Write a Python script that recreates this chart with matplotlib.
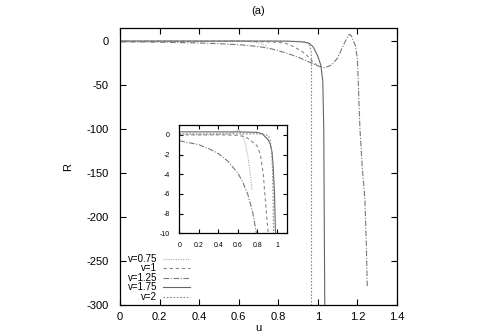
import matplotlib

matplotlib.use("Agg")
import matplotlib.pyplot as plt
from matplotlib.lines import Line2D

plt.rcParams["font.family"] = ["Liberation Sans", "DejaVu Sans"]
plt.rcParams["axes.unicode_minus"] = False

# v = 0.75
u_075 = [0.12, 0.2, 0.3, 0.4, 0.5, 0.55, 0.58, 0.6, 0.62, 0.64, 0.66, 0.68, 0.70, 0.72, 0.745]
r_075 = [0.0, 0.0, 0.0, 0.05, 0.1, 0.2, 0.4, 0.5, 0.4, 0.1, -0.4, -1.1, -2.0, -3.4, -5.6]

# v = 1
u_1 = [0.0, 0.2, 0.4, 0.6, 0.68, 0.72, 0.76, 0.78, 0.8, 0.83, 0.86, 0.88, 0.91, 0.94, 0.97, 1.0]
r_1 = [0.0, 0.0, 0.0, -0.05, -0.2, -0.5, -0.8, -0.9, -1.2, -2.0, -4.0, -6.5, -10.0, -15.0, -22.0, -28.0]

# v = 1.25
u_125 = [0.0, 0.1, 0.2, 0.3, 0.4, 0.5, 0.6, 0.65, 0.7, 0.75, 0.79, 0.85, 0.9, 0.95, 1.0,
         1.035, 1.07, 1.1, 1.13, 1.15, 1.16, 1.17, 1.19, 1.2, 1.213, 1.225, 1.238, 1.245, 1.25]
r_125 = [-0.6, -0.8, -1.0, -1.4, -1.9, -2.7, -3.9, -4.8, -6.0, -7.8, -10.0, -14.0, -18.0, -23.0, -28.0,
         -30.0, -27.0, -19.0, -4.0, 5.0, 8.0, 6.0, -5.0, -20.0, -100.0, -145.0, -180.0, -230.0, -280.0]

# v = 1.75
u_175 = [0.0, 0.2, 0.4, 0.6, 0.8, 0.85, 0.88, 0.91, 0.93, 0.95, 0.96, 0.975, 0.985, 1.0, 1.015,
         1.025, 1.03, 1.035]
r_175 = [0.3, 0.3, 0.3, 0.3, 0.25, 0.1, -0.2, -0.5, -0.9, -1.8, -3.0, -6.0, -10.0, -17.0, -27.0,
         -45.0, -100.0, -300.0]

# v = 2
u_2 = [0.0, 0.2, 0.4, 0.6, 0.8, 0.88, 0.91, 0.93, 0.945, 0.955, 0.962, 0.966, 0.968, 0.968]
r_2 = [0.1, 0.1, 0.1, 0.1, 0.1, 0.05, -0.1, -0.5, -1.5, -3.5, -7.0, -12.0, -20.0, -300.0]

labels = ["v=0.75", "v=1", "v=1.25", "v=1.75", "v=2"]
series = [(u_075, r_075), (u_1, r_1), (u_125, r_125), (u_175, r_175), (u_2, r_2)]
styles = [
    dict(color="#aaaaaa", ls=(0, (1, 1.2)), lw=0.8),
    dict(color="#888888", ls=(0, (3, 2.5)), lw=0.8),
    dict(color="#777777", ls=(0, (5, 1.5, 1, 1.5)), lw=0.8),
    dict(color="#666666", ls="-", lw=0.8),
    dict(color="#888888", ls=(0, (1.5, 1.5)), lw=0.8),
]

main_xticks = [0, 0.2, 0.4, 0.6, 0.8, 1, 1.2, 1.4]
main_xlabels = ["0", "0.2", "0.4", "0.6", "0.8", "1", "1.2", "1.4"]
main_yticks = [0, -50, -100, -150, -200, -250, -300]
inset_xticks = [0, 0.2, 0.4, 0.6, 0.8, 1]
inset_xlabels = ["0", "0.2", "0.4", "0.6", "0.8", "1"]
inset_yticks = [0, -2, -4, -6, -8, -10]


def gnuplot_axes(ax, size, xpad, ypad):
    ax.tick_params(direction="in", top=True, right=True, length=size, width=0.8)
    ax.tick_params(axis="x", pad=xpad)
    ax.tick_params(axis="y", pad=ypad)
    for sp in ax.spines.values():
        sp.set_linewidth(0.9)


fig = plt.figure(figsize=(4.8, 3.36), dpi=100)
ax = fig.add_axes([0.25, 0.0923, 0.577, 0.824])
for (u, r), st in zip(series, styles):
    ax.plot(u, r, **st)
ax.set_xlim(0, 1.4)
ax.set_ylim(-300, 15)
ax.set_xticks(main_xticks)
ax.set_xticklabels(main_xlabels)
ax.set_yticks(main_yticks)
ax.tick_params(labelsize=8)
gnuplot_axes(ax, 4, 5, 8)
ax.set_xlabel("u", fontsize=8, labelpad=1)
ax.set_ylabel("R", fontsize=8, labelpad=10)
ax.set_title("(a)", fontsize=8, pad=10)

# gnuplot-style key: label right-aligned, sample to the right
key_y = [0.166, 0.134, 0.099, 0.066, 0.029]
for lab, st, yk in zip(labels, styles, key_y):
    ax.text(0.134, yk, lab, transform=ax.transAxes, ha="right", va="center", fontsize=7)
    ax.add_line(Line2D([0.155, 0.253], [yk, yk], transform=ax.transAxes, **st))

ins = fig.add_axes([0.3736, 0.3057, 0.2237, 0.3223])
for (u, r), st in zip(series, styles):
    ins.plot(u, r, **st)
ins.set_xlim(0, 1.1)
ins.set_ylim(-10, 1)
ins.set_xticks(inset_xticks)
ins.set_xticklabels(inset_xlabels)
ins.set_yticks(inset_yticks)
ins.tick_params(labelsize=5)
gnuplot_axes(ins, 3, 6, 7)

fig.savefig("out.png", dpi=100)
